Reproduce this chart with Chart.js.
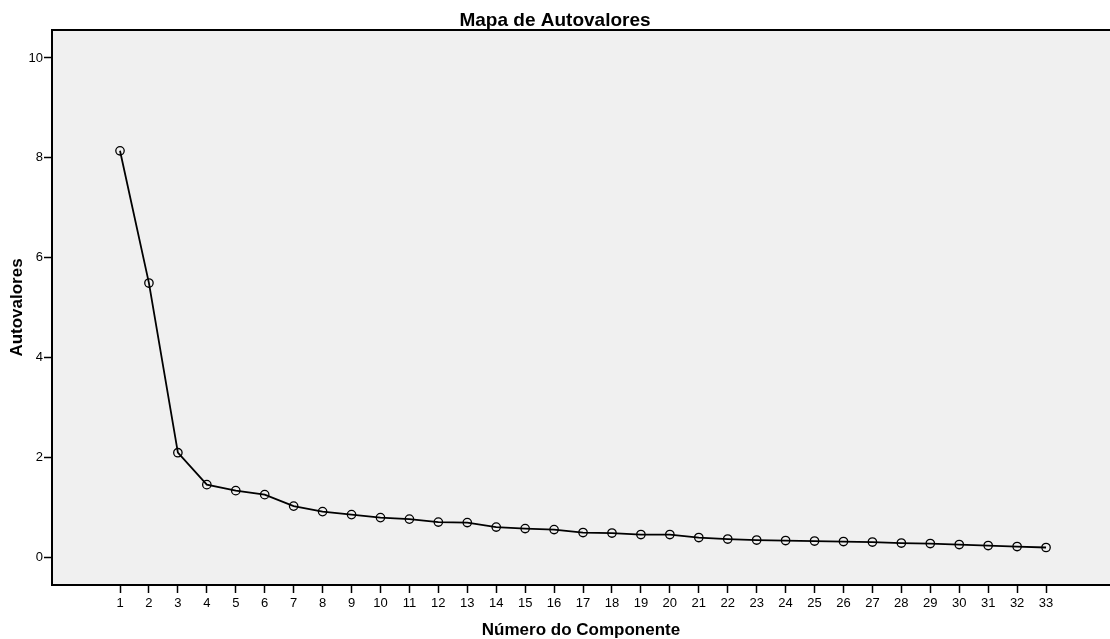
<!DOCTYPE html>
<html lang="pt">
<head>
<meta charset="utf-8">
<title>Mapa de Autovalores</title>
<script src="https://cdn.jsdelivr.net/npm/chart.js@4.4.1/dist/chart.umd.min.js"></script>
<style>
  html, body { margin: 0; padding: 0; background: #fff; overflow: hidden; }
  #wrap { width: 1110px; height: 639px; }
  canvas { display: block; }
</style>
</head>
<body>
<div id="wrap"><canvas id="scree" width="1110" height="639"></canvas></div>
<script>
// Número do componente e autovalor
const componentes = [1, 2, 3, 4, 5, 6, 7, 8, 9, 10, 11, 12, 13, 14, 15, 16, 17,
  18, 19, 20, 21, 22, 23, 24, 25, 26, 27, 28, 29, 30, 31, 32, 33];
const autovalores = [8.14, 5.49, 2.09, 1.45, 1.33, 1.25, 1.02, 0.91, 0.85, 0.79,
  0.76, 0.70, 0.69, 0.60, 0.57, 0.55, 0.49, 0.48, 0.45, 0.45, 0.39, 0.36, 0.34,
  0.33, 0.32, 0.31, 0.30, 0.28, 0.27, 0.25, 0.23, 0.21, 0.19];
const ticksY = [0, 2, 4, 6, 8, 10];

const FONTE = '"Liberation Sans", Arial, sans-serif';

// fundo cinza da área do gráfico + linha de cima do quadro
const quadro = {
  id: 'quadro',
  beforeDraw(chart) {
    const { ctx, chartArea: a } = chart;
    ctx.save();
    ctx.fillStyle = '#f0f0f0';
    ctx.fillRect(a.left, a.top, a.right - a.left, a.bottom - a.top);
    ctx.restore();
  },
  afterDraw(chart) {
    const { ctx, chartArea: a } = chart;
    ctx.save();
    ctx.strokeStyle = '#000';
    ctx.lineWidth = 2;
    ctx.beginPath();
    ctx.moveTo(a.left - 1, a.top);
    ctx.lineTo(a.right, a.top);
    ctx.stroke();
    ctx.restore();
  }
};

// tira o espaço extra que o Chart.js reserva para os rótulos das pontas
function semPadding(s) {
  s.paddingLeft = 0;
  s.paddingRight = 0;
  s.paddingTop = 0;
  s.paddingBottom = 0;
}

new Chart(document.getElementById('scree'), {
  type: 'line',
  data: {
    datasets: [{
      data: componentes.map((c, i) => ({ x: c, y: autovalores[i] })),
      borderColor: '#000',
      borderWidth: 1.8,
      pointStyle: 'circle',
      pointRadius: 4.2,
      pointBorderWidth: 1.3,
      pointBorderColor: '#000',
      pointBackgroundColor: 'rgba(0,0,0,0)',
      tension: 0
    }]
  },
  options: {
    responsive: false,
    devicePixelRatio: 1,
    animation: false,
    layout: { padding: 0, autoPadding: false },
    plugins: {
      legend: { display: false },
      tooltip: { enabled: false },
      title: {
        display: true,
        text: 'Mapa de Autovalores',
        color: '#000',
        font: { family: FONTE, size: 19, weight: 'bold', lineHeight: 1 },
        padding: { top: 11, bottom: 0 }
      }
    },
    scales: {
      x: {
        type: 'linear',
        min: -1.35,
        max: 35.21,
        afterBuildTicks: s => { s.ticks = componentes.map(v => ({ value: v })); },
        afterFit: s => { s.height = 54; semPadding(s); },
        grid: { drawOnChartArea: false, drawTicks: true, tickLength: 8, tickColor: '#000', tickWidth: 1.5 },
        border: { display: true, color: '#000', width: 2 },
        ticks: { color: '#000', padding: 3, autoSkip: false, maxRotation: 0, font: { family: FONTE, size: 13 } },
        title: {
          display: true,
          text: 'Número do Componente',
          color: '#000',
          font: { family: FONTE, size: 17, weight: 'bold', lineHeight: 1 },
          padding: { top: 0, bottom: 0 }
        }
      },
      y: {
        type: 'linear',
        min: -0.561,
        max: 10.561,
        afterBuildTicks: s => { s.ticks = ticksY.map(v => ({ value: v })); },
        afterFit: s => { s.width = 52; semPadding(s); },
        grid: { drawOnChartArea: false, drawTicks: true, tickLength: 8, tickColor: '#000', tickWidth: 1.5 },
        border: { display: true, color: '#000', width: 2 },
        ticks: { color: '#000', padding: 1, font: { family: FONTE, size: 13 } },
        title: {
          display: true,
          text: 'Autovalores',
          color: '#000',
          font: { family: FONTE, size: 17, weight: 'bold', lineHeight: 1 },
          padding: { top: 9, bottom: 0 }
        }
      }
    }
  },
  plugins: [quadro]
});
</script>
</body>
</html>
